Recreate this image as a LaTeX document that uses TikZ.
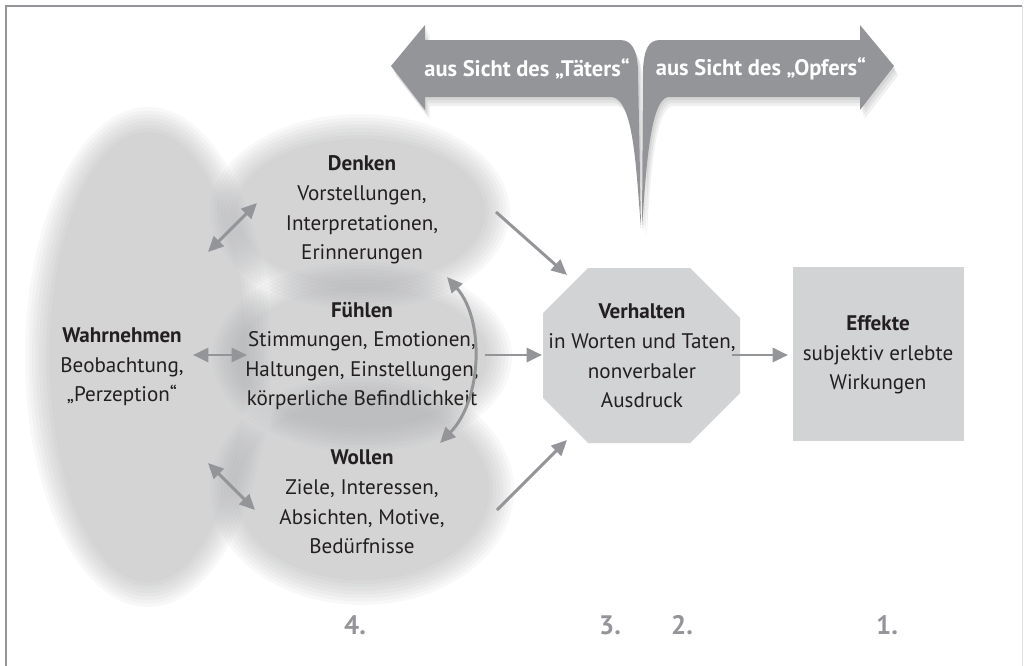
\documentclass[tikz,border=0pt]{standalone}
\usepackage{fontspec}
\setmainfont{PT Sans}
\usetikzlibrary{arrows.meta}

\definecolor{arrowgray}{HTML}{939598}
\definecolor{blobgray}{HTML}{A2A3A5}
\definecolor{boxgray}{HTML}{D2D3D5}
\definecolor{textdark}{HTML}{231F20}

\tikzset{
  txt/.style = {align=center, text=textdark, inner sep=0pt,
                font=\fontsize{15}{21}\selectfont},
  conn/.style = {draw=arrowgray, line width=2.1pt,
                 -{Triangle[length=11pt,width=10pt]}},
  dconn/.style = {conn, {Triangle[length=11pt,width=10pt]}-{Triangle[length=11pt,width=10pt]}},
  num/.style = {text=arrowgray, font=\fontsize{19}{21}\selectfont\bfseries},
  bannertext/.style = {text=white, font=\fontsize{16}{18}\selectfont\bfseries}
}

% soft, fuzzy-edged ellipse: centre x, centre y, x radius, y radius
\newcommand{\blob}[4]{%
  \foreach \k in {0,...,7}
    \fill[blobgray, fill opacity=0.075] (#1,#2) ellipse [x radius={#3-3.5*\k}, y radius={#4-3.5*\k}];
}
% the two halves of the banner
\newcommand{\leftbanner}{(391,66) -- (425,25) -- (425,40) -- (620,40)
  .. controls (632,40) and (637,50) .. (638,70) -- (641,228)
  .. controls (636,170) and (634,100) .. (612,97)
  -- (425,97) -- (425,110) -- cycle}
\newcommand{\rightbanner}{(894,66) -- (860,25) -- (860,40) -- (660,40)
  .. controls (648,40) and (644,50) .. (643,70) -- (642,228)
  .. controls (646,170) and (650,100) .. (668,97)
  -- (860,97) -- (860,110) -- cycle}

\begin{document}
\begin{tikzpicture}[x=0.025cm, y=-0.025cm]
  \useasboundingbox (0,0) rectangle (1024,665);

  % frame
  \draw[arrowgray, line width=2.1pt] (6,700) -- (6,6) -- (1022,6);
  \draw[gray!25, line width=0.5pt] (1022,6) -- (1022,700);

  % the four areas
  \blob{148}{357}{123}{250}
  \blob{360}{212}{150}{98}
  \blob{362}{357}{150}{95}
  \blob{362}{490}{152}{115}

  % Verhalten (octagon) and Effekte (box)
  \fill[boxgray] (588,268) -- (690,268) -- (740,318) -- (740,393) -- (690,443)
                 -- (588,443) -- (543,398) -- (543,313) -- cycle;
  \fill[boxgray] (793,267) rectangle (964,441);

  % perspective banner, with a soft shadow
  \foreach \s in {3,6,9}
    \fill[black, fill opacity=0.06, shift={(\s/2,\s)}] \leftbanner \rightbanner;
  \fill[arrowgray] \leftbanner;
  \fill[arrowgray] \rightbanner;
  \node[bannertext] (taeter) at (527,69) {aus Sicht des „Täters“};
  \node[bannertext] (opfer) at (761,69) {aus Sicht des „Opfers“};

  % texts
  \node[txt] (wahrnehmen) at (122,367) {\textbf{Wahrnehmen}\\Beobachtung,\\„Perzeption“};
  \node[txt] (denken) at (362,210) {\textbf{Denken}\\Vorstellungen,\\Interpretationen,\\Erinnerungen};
  \node[txt] (fuehlen) at (362,356) {\textbf{Fühlen}\\Stimmungen, Emotionen,\\Haltungen, Einstellungen,\\körperliche Befindlichkeit};
  \node[txt] (wollen) at (362,502) {\textbf{Wollen}\\Ziele, Interessen,\\Absichten, Motive,\\Bedürfnisse};
  \node[txt] (verhalten) at (642,356) {\textbf{Verhalten}\\in Worten und Taten,\\nonverbaler\\Ausdruck};
  \node[txt] (effekte) at (878,355) {\textbf{Effekte}\\subjektiv erlebte\\Wirkungen};

  % arrow ends
  \coordinate (wd) at (208,252);
  \coordinate (dw) at (257,203);
  \coordinate (wf) at (193,355);
  \coordinate (fw) at (247,355);
  \coordinate (ww) at (208,463);
  \coordinate (wow) at (255,510);
  \coordinate (dwo) at (447,277);
  \coordinate (wod) at (440,443);
  \coordinate (dv) at (496,212);
  \coordinate (vd) at (567,275);
  \coordinate (fv) at (485,355);
  \coordinate (vf) at (542,355);
  \coordinate (wov) at (497,510);
  \coordinate (vwo) at (567,440);
  \coordinate (ve) at (732,355);
  \coordinate (ev) at (788,355);

  % arrows
  \draw[dconn] (wd) -- (dw);
  \draw[dconn] (wf) -- (fw);
  \draw[dconn] (ww) -- (wow);
  \draw[dconn] (dwo) .. controls (485,320) and (482,400) .. (wod);
  \draw[conn] (dv) -- (vd);
  \draw[conn] (fv) -- (vf);
  \draw[conn] (wov) -- (vwo);
  \draw[conn] (ve) -- (ev);

  % steps
  \node[num] (n4) at (355,625) {4.};
  \node[num] (n3) at (610,625) {3.};
  \node[num] (n2) at (682,625) {2.};
  \node[num] (n1) at (887,625) {1.};
\end{tikzpicture}
\end{document}
